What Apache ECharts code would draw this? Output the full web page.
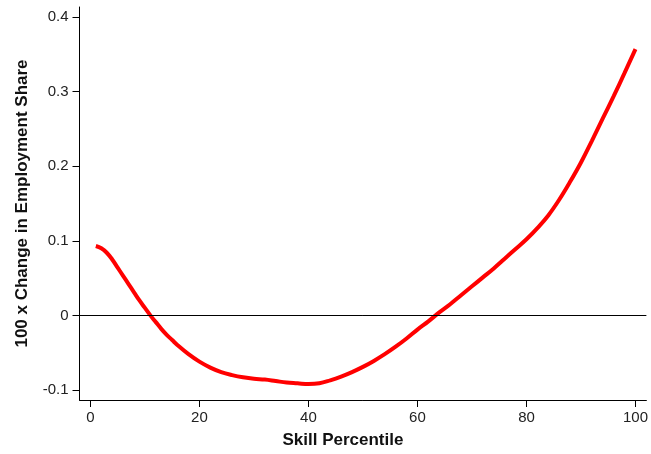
<!DOCTYPE html>
<html>
<head>
<meta charset="utf-8">
<script src="https://cdn.jsdelivr.net/npm/echarts@6/dist/echarts.min.js"></script>
<style>html,body{margin:0;padding:0;background:#fff}#c{width:651px;height:454px}</style>
</head>
<body>
<div id="c"></div>
<script>
const skillPercentile = [1,2,3,4,5,6,7,8,9,10,11,12,13,14,15,16,18,20,22,24,26,28,30,32,34,36,38,40,42,44,46,48,50,52,54,56,58,60,62,64,66,68,70,72,74,76,78,80,82,84,86,88,90,92,94,96,98,100];
const employmentChange = [0.093,0.090,0.084,0.075,0.064,0.053,0.042,0.031,0.020,0.010,0.000,-0.009,-0.018,-0.026,-0.033,-0.040,-0.052,-0.062,-0.070,-0.076,-0.080,-0.083,-0.085,-0.086,-0.088,-0.090,-0.091,-0.092,-0.091,-0.087,-0.082,-0.076,-0.069,-0.061,-0.052,-0.042,-0.031,-0.019,-0.008,0.004,0.015,0.027,0.039,0.051,0.063,0.076,0.089,0.102,0.117,0.134,0.155,0.179,0.205,0.234,0.264,0.294,0.325,0.357];
const xTicks = [0,20,40,60,80,100];
const yTicks = [-0.1,0,0.1,0.2,0.3,0.4];

const font = '"Liberation Sans", Arial, sans-serif';
const chart = echarts.init(document.getElementById('c'), null, {renderer: 'canvas'});
chart.setOption({
  animation: false,
  grid: {left: 79.5, right: 3, top: 7, bottom: 52.5, containLabel: false},
  xAxis: {
    type: 'value', min: -2, max: 102,
    name: 'Skill Percentile', nameLocation: 'middle', nameGap: 32,
    nameTextStyle: {fontFamily: font, fontWeight: 'bold', fontSize: 17, color: '#111', padding: [0, 40, 0, 0]},
    axisLine: {show: true, onZero: false, lineStyle: {color: '#000', width: 1}},
    axisTick: {show: true, length: 7, lineStyle: {color: '#000'}, customValues: xTicks},
    axisLabel: {fontFamily: font, fontSize: 15, color: '#222', margin: 10, customValues: xTicks},
    splitLine: {show: false}
  },
  yAxis: {
    type: 'value', min: -0.1134, max: 0.4134,
    name: '100 x Change in Employment Share', nameLocation: 'middle', nameGap: 49,
    nameTextStyle: {fontFamily: font, fontWeight: 'bold', fontSize: 17, color: '#111'},
    axisLine: {show: true, onZero: false, lineStyle: {color: '#000', width: 1}},
    axisTick: {show: true, length: 7, lineStyle: {color: '#000'}, customValues: yTicks},
    axisLabel: {fontFamily: font, fontSize: 15, color: '#222', margin: 11, customValues: yTicks,
      formatter: v => String(Math.round(v * 10) / 10)},
    splitLine: {show: false}
  },
  series: [{
    type: 'line',
    data: skillPercentile.map((x, i) => [x, employmentChange[i]]),
    smooth: 0.4,
    showSymbol: false,
    lineStyle: {color: '#ff0000', width: 4},
    markLine: {
      silent: true, symbol: 'none', label: {show: false},
      lineStyle: {color: '#000', width: 1, type: 'solid'},
      data: [{yAxis: 0}]
    }
  }]
});
</script>
</body>
</html>
